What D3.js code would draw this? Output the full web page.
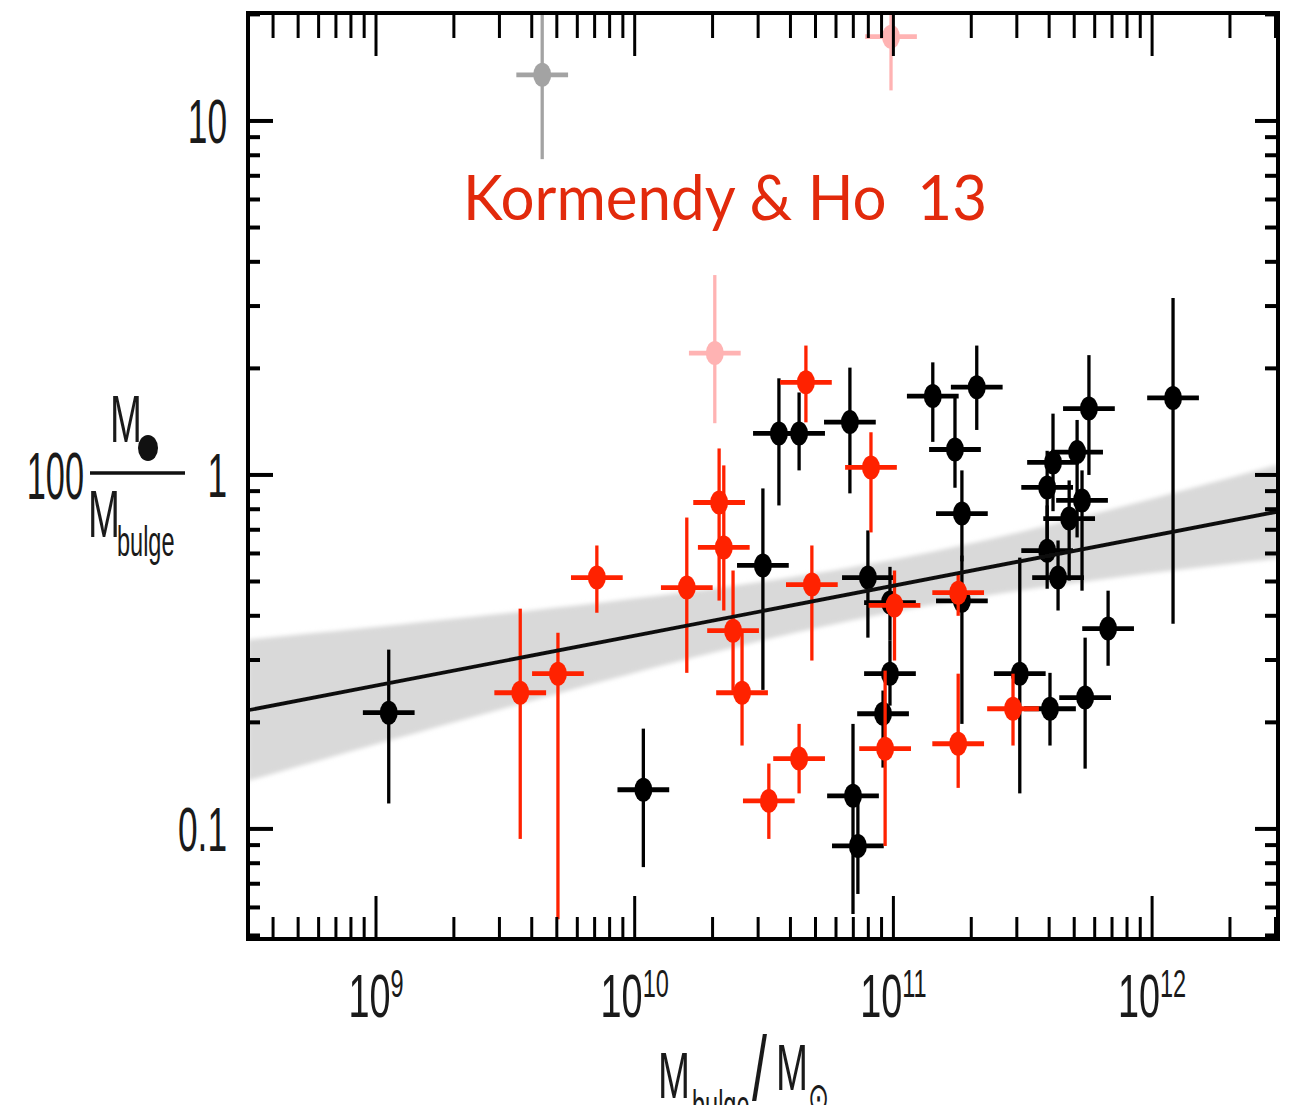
<!DOCTYPE html>
<html>
<head>
<meta charset="utf-8">
<script src="https://cdn.jsdelivr.net/npm/d3@7"></script>
<style>
  body { margin: 0; background: #fff; }
  svg { display: block; }
</style>
</head>
<body>
<svg id="chart" width="1293" height="1105"></svg>
<script>
// Black sample: bulge mass (Msun), 100*M_BH/M_bulge and its lower / upper bounds
const blackMass  = [1.12e9, 1.08e10, 3.13e10, 3.61e10, 4.32e10, 6.79e10, 1.42e11, 1.73e11, 1.84e11, 1.84e11,
                    2.10e11, 5.70e11, 1.205e12, 4.14e11, 5.13e11, 3.93e11, 5.36e11, 4.78e11, 3.93e11, 4.33e11,
                    6.76e11, 3.08e11, 4.03e11, 5.51e11, 6.98e10, 7.29e10, 7.97e10, 9.70e10, 9.12e10, 9.70e10];
const blackRatio = [0.213, 0.129, 0.555, 1.31, 1.31, 1.41, 1.67, 1.18, 0.778, 0.441,
                    1.77, 1.54, 1.65, 1.085, 1.16, 0.922, 0.847, 0.753, 0.611, 0.513,
                    0.368, 0.2745, 0.2185, 0.235, 0.124, 0.0895, 0.513, 0.2745, 0.2115, 0.436];
const blackLo    = [0.118, 0.078, 0.247, 0.82, 1.03, 0.887, 1.24, 0.92, 0.57, 0.198,
                    1.34, 1.0, 0.38, 0.79, 0.666, 0.573, 0.471, 0.503, 0.477, 0.414,
                    0.289, 0.126, 0.172, 0.148, 0.0575, 0.0655, 0.347, 0.223, 0.149, 0.34];
const blackHi    = [0.321, 0.192, 0.916, 1.875, 1.71, 2.01, 2.08, 1.66, 1.03, 0.592,
                    2.32, 2.18, 3.16, 1.49, 1.43, 1.17, 1.03, 0.965, 0.82, 0.653,
                    0.471, 0.584, 0.276, 0.347, 0.198, 0.12, 0.697, 0.34, 0.246, 0.55];

// Red sample
const redMass  = [7.14e9, 3.61e9, 5.05e9, 1.59e10, 2.12e10, 2.21e10, 2.40e10, 2.60e10, 4.59e10, 4.84e10,
                  4.32e10, 3.30e10, 8.19e10, 1.01e11, 9.29e10, 1.78e11, 1.78e11, 2.90e11];
const redRatio = [0.513, 0.2425, 0.2745, 0.4805, 0.836, 0.624, 0.363, 0.2425, 1.827, 0.49,
                  0.158, 0.12, 1.05, 0.428, 0.1685, 0.465, 0.174, 0.2185];
const redLo    = [0.408, 0.0937, 0.0556, 0.276, 0.4416, 0.414, 0.2456, 0.172, 1.408, 0.299,
                  0.126, 0.0937, 0.688, 0.299, 0.0895, 0.40, 0.1306, 0.172];
const redHi    = [0.632, 0.419, 0.358, 0.758, 1.188, 1.064, 0.537, 0.358, 2.32, 0.632,
                  0.198, 0.153, 1.32, 0.537, 0.28, 0.53, 0.2745, 0.2745];

// Excluded objects (pale symbols)
const pinkMass  = [2.04e10, 9.79e10];
const pinkRatio = [2.21, 17.3];
const pinkLo    = [1.40, 12.2];
const pinkHi    = [3.67, 25];
const grayMass  = [4.39e9];
const grayRatio = [13.5];
const grayLo    = [7.8];
const grayHi    = [22];

// Mass uncertainty (dex) used for the horizontal bars
const massErrDex = 0.1;

// Log-linear fit: log(ratio) = fitZero + fitSlope * (log M - 10), with its confidence band
const fitZero = -0.454;
const fitSlope = 0.141;
const bandA = 0.0055, bandB = 0.0055, bandPivot = 11;

// Axis ticks
const xMajor = [1e9, 1e10, 1e11, 1e12];
const xMajorExp = ["9", "10", "11", "12"];
const yMajor = [0.1, 1, 10];
const yMajorLabels = ["0.1", "1", "10"];
const minorSteps = [2, 3, 4, 5, 6, 7, 8, 9];

const title = "Kormendy & Ho  13";

const svg = d3.select("#chart");
const L = 248, R = 1278, T = 13, B = 939;

const x = d3.scaleLog().domain([Math.pow(10, 8.5052), Math.pow(10, 12.4867)]).range([L, R]);
const y = d3.scaleLog().domain([Math.pow(10, -1.311), Math.pow(10, 1.305)]).range([B, T]);

const defs = svg.append("defs");
defs.append("clipPath").attr("id", "plotclip")
  .append("rect").attr("x", L).attr("y", T).attr("width", R - L).attr("height", B - T);
defs.append("filter").attr("id", "soft").attr("x", "-5%").attr("y", "-20%").attr("width", "110%").attr("height", "140%")
  .append("feGaussianBlur").attr("stdDeviation", 2.2);
defs.append("filter").attr("id", "soft1")
  .append("feGaussianBlur").attr("stdDeviation", 0.6);

const plot = svg.append("g").attr("clip-path", "url(#plotclip)");

// Confidence band around the fit
const lx0 = Math.log10(x.domain()[0]), lx1 = Math.log10(x.domain()[1]);
const bandPts = d3.range(0, 61).map(i => lx0 + (lx1 - lx0) * i / 60);
const fitAt = lm => fitZero + fitSlope * (lm - 10);
const halfW = lm => Math.sqrt(bandA + bandB * (lm - bandPivot) * (lm - bandPivot));
plot.append("path")
  .datum(bandPts)
  .attr("d", d3.area()
    .x(lm => x(Math.pow(10, lm)))
    .y0(lm => y(Math.pow(10, fitAt(lm) - halfW(lm))))
    .y1(lm => y(Math.pow(10, fitAt(lm) + halfW(lm)))))
  .attr("fill", "#d9d9d9")
  .attr("filter", "url(#soft)");

function drawSet(mass, ratio, lo, hi, color) {
  const g = plot.append("g").attr("filter", "url(#soft1)");
  const pts = mass.map((m, i) => ({ m, r: ratio[i], lo: lo[i], hi: hi[i] }));
  g.selectAll("line.v").data(pts).join("line")
    .attr("x1", d => x(d.m)).attr("x2", d => x(d.m))
    .attr("y1", d => y(d.lo)).attr("y2", d => y(d.hi))
    .attr("stroke", color).attr("stroke-width", 3.3);
  g.selectAll("line.h").data(pts).join("line")
    .attr("x1", d => x(d.m / Math.pow(10, massErrDex))).attr("x2", d => x(d.m * Math.pow(10, massErrDex)))
    .attr("y1", d => y(d.r)).attr("y2", d => y(d.r))
    .attr("stroke", color).attr("stroke-width", 4.8);
  g.selectAll("ellipse").data(pts).join("ellipse")
    .attr("cx", d => x(d.m)).attr("cy", d => y(d.r))
    .attr("rx", 9).attr("ry", 12)
    .attr("fill", color);
}

drawSet(blackMass, blackRatio, blackLo, blackHi, "#000000");
drawSet(redMass, redRatio, redLo, redHi, "#ff2200");
drawSet(pinkMass, pinkRatio, pinkLo, pinkHi, "#ffb3b3");
drawSet(grayMass, grayRatio, grayLo, grayHi, "#a3a3a3");

// Fit line
plot.append("path")
  .datum([lx0, lx1])
  .attr("d", d3.line().x(lm => x(Math.pow(10, lm))).y(lm => y(Math.pow(10, fitAt(lm)))))
  .attr("stroke", "#111").attr("stroke-width", 3.8).attr("fill", "none")
  .attr("filter", "url(#soft1)");

// Ticks (inward on all four sides)
const axes = svg.append("g").attr("stroke", "#000");
const decadesX = d3.range(8, 13);
const xMinor = decadesX.flatMap(d => minorSteps.map(s => s * Math.pow(10, d)))
  .filter(v => v > x.domain()[0] && v < x.domain()[1]);
const decadesY = d3.range(-2, 2);
const yMinor = decadesY.flatMap(d => minorSteps.map(s => s * Math.pow(10, d)))
  .filter(v => v > y.domain()[0] && v < y.domain()[1]);

xMinor.forEach(v => {
  axes.append("line").attr("x1", x(v)).attr("x2", x(v)).attr("y1", B).attr("y2", B - 22).attr("stroke-width", 3);
  axes.append("line").attr("x1", x(v)).attr("x2", x(v)).attr("y1", T).attr("y2", T + 25).attr("stroke-width", 3);
});
xMajor.forEach(v => {
  axes.append("line").attr("x1", x(v)).attr("x2", x(v)).attr("y1", B).attr("y2", B - 43).attr("stroke-width", 3);
  axes.append("line").attr("x1", x(v)).attr("x2", x(v)).attr("y1", T).attr("y2", T + 43).attr("stroke-width", 3);
});
yMinor.forEach(v => {
  axes.append("line").attr("x1", L).attr("x2", L + 12).attr("y1", y(v)).attr("y2", y(v)).attr("stroke-width", 4);
  axes.append("line").attr("x1", R).attr("x2", R - 13).attr("y1", y(v)).attr("y2", y(v)).attr("stroke-width", 4);
});
yMajor.forEach(v => {
  axes.append("line").attr("x1", L).attr("x2", L + 25).attr("y1", y(v)).attr("y2", y(v)).attr("stroke-width", 4);
  axes.append("line").attr("x1", R).attr("x2", R - 23).attr("y1", y(v)).attr("y2", y(v)).attr("stroke-width", 4);
});

// Frame
svg.append("rect").attr("x", L).attr("y", T).attr("width", R - L).attr("height", B - T)
  .attr("fill", "none").attr("stroke", "#000").attr("stroke-width", 4);

// Narrow text helper
const FONT = "'Liberation Sans', Arial, Helvetica, sans-serif";
function narrowText(parent, str, px, py, size, anchor, sx) {
  return parent.append("text")
    .attr("transform", `translate(${px},${py}) scale(${sx || 0.6},1)`)
    .attr("font-family", FONT).attr("font-size", size)
    .attr("text-anchor", anchor || "start").attr("fill", "#1a1a1a")
    .text(str);
}

// Y tick labels
const labels = svg.append("g");
yMajor.forEach((v, i) => {
  narrowText(labels, yMajorLabels[i], 227, y(v) + 22, 63, "end", 0.56);
});

// X tick labels: 10 with superscript exponent, centred on the tick
xMajor.forEach((v, i) => {
  const t = labels.append("text")
    .attr("transform", `translate(${x(v)},${1017}) scale(0.62,1)`)
    .attr("font-family", FONT).attr("font-size", 61)
    .attr("text-anchor", "middle").attr("fill", "#1a1a1a");
  t.append("tspan").text("10");
  t.append("tspan").attr("font-size", 38).attr("dy", -20).text(xMajorExp[i]);
});

// Y axis title: 100 M(bh) / M_bulge
narrowText(labels, "100", 84, 499, 66, "end", 0.52);
svg.append("line").attr("x1", 90).attr("x2", 185).attr("y1", 473).attr("y2", 473)
  .attr("stroke", "#111").attr("stroke-width", 3.5);
narrowText(labels, "M", 110, 442, 66, "start", 0.58);
svg.append("ellipse").attr("cx", 148).attr("cy", 448).attr("rx", 10).attr("ry", 13).attr("fill", "#111");
narrowText(labels, "M", 88, 537, 66, "start", 0.58);
narrowText(labels, "bulge", 117, 556, 42, "start", 0.56);

// X axis title: M_bulge / M_sun
narrowText(labels, "M", 658, 1098, 64, "start", 0.6);
narrowText(labels, "bulge", 692, 1120, 42, "start", 0.56);
narrowText(labels, "/", 752, 1100, 90, "start", 0.6);
narrowText(labels, "M", 776, 1090, 64, "start", 0.6);
narrowText(labels, "\u2299", 808, 1112, 42, "start", 0.6);

// Title
svg.append("text")
  .attr("x", 463).attr("y", 220)
  .attr("font-family", "Lato, 'Open Sans', sans-serif")
  .attr("font-size", 62)
  .attr("fill", "#e22a0c")
  .attr("textLength", 524).attr("lengthAdjust", "spacingAndGlyphs")
  .style("white-space", "pre")
  .text(title);
</script>
</body>
</html>
